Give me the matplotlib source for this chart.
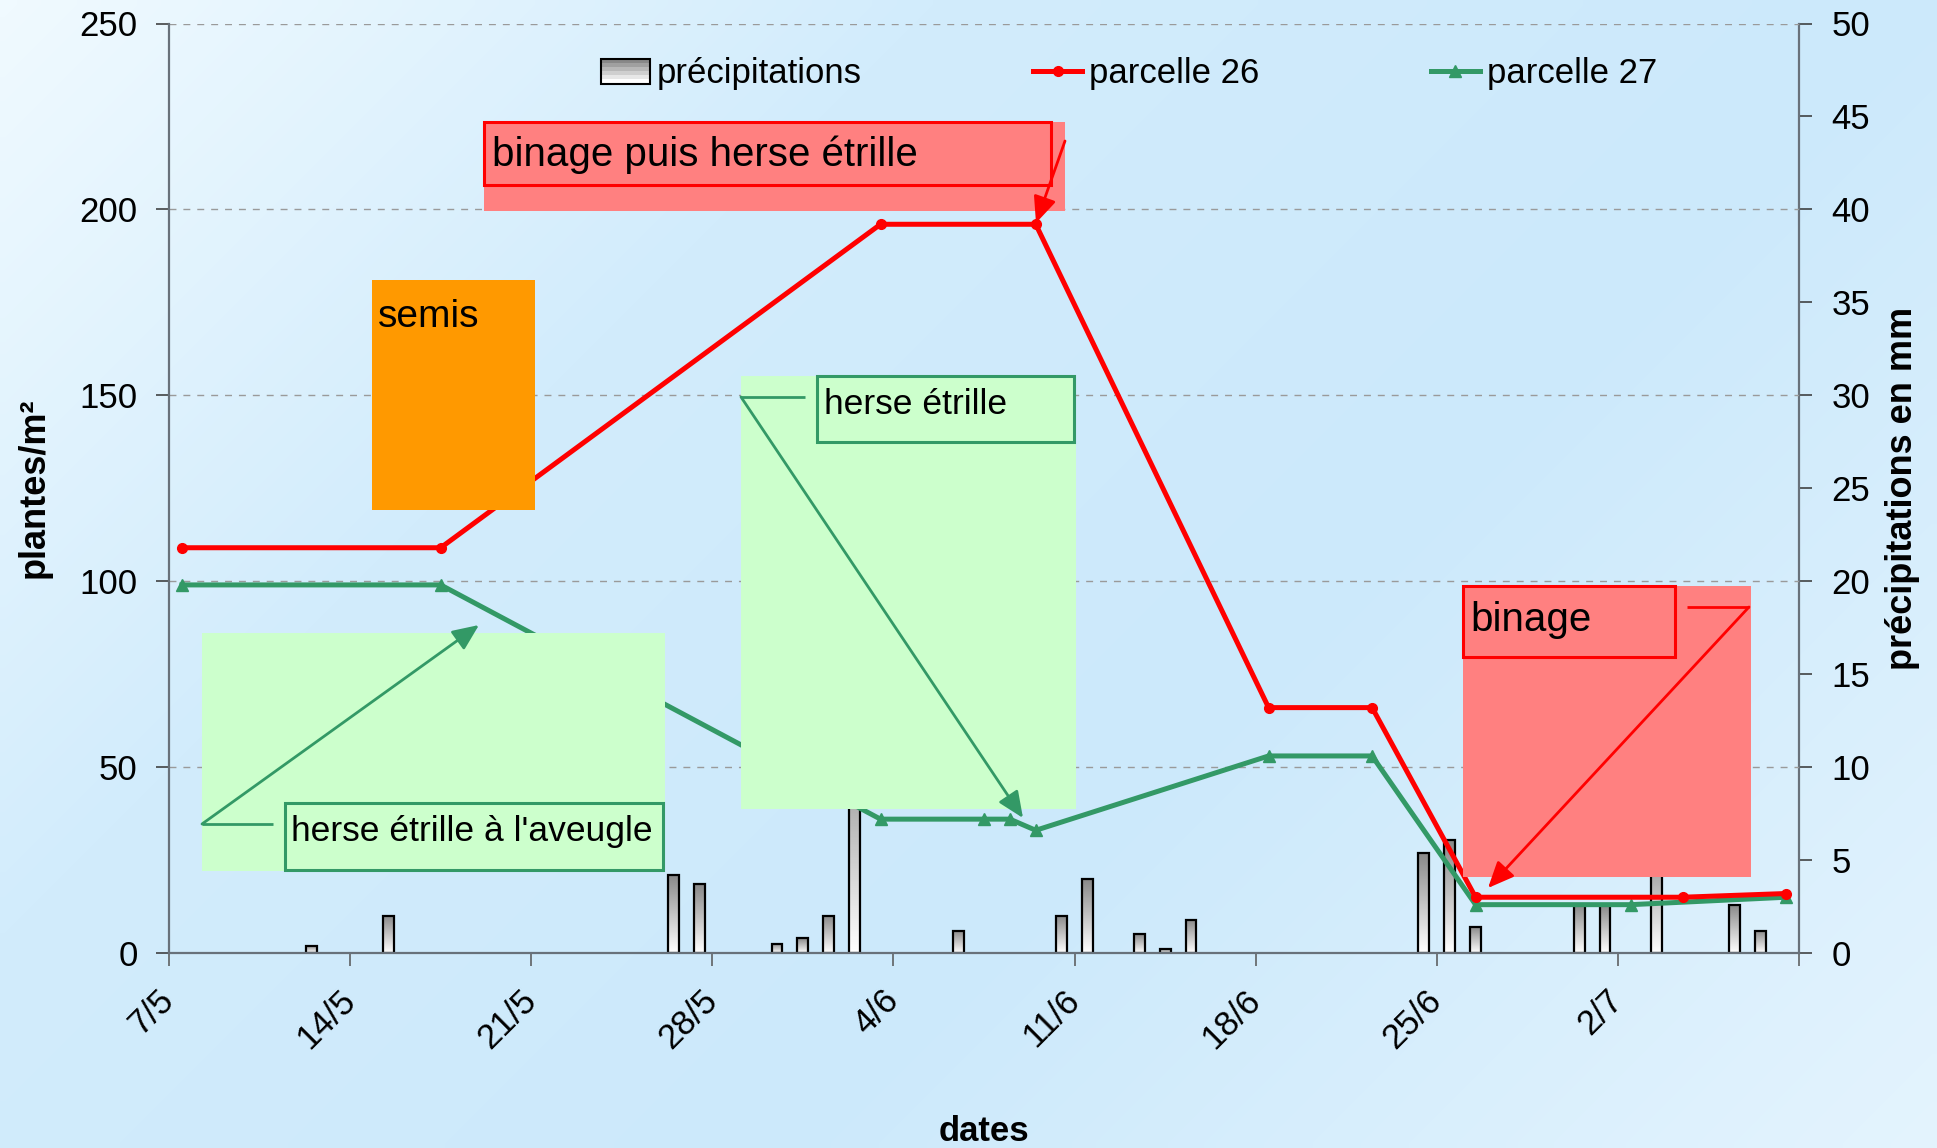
import datetime as dt
import numpy as np
import matplotlib
matplotlib.use("Agg")
import matplotlib.pyplot as plt
from matplotlib.patches import Rectangle, FancyArrowPatch, Patch
from matplotlib.lines import Line2D
from matplotlib.colors import LinearSegmentedColormap
from matplotlib.legend_handler import HandlerPatch

plt.rcParams['font.family'] = ['Liberation Sans', 'DejaVu Sans']

# ---------------- data ----------------
YEAR = 2008
start_date = '7/5'
end_date = '9/7'
tick_labels = ['7/5', '14/5', '21/5', '28/5', '4/6', '11/6', '18/6', '25/6', '2/7']

precip_dates = ['12/5', '15/5', '26/5', '27/5', '30/5', '31/5', '1/6', '2/6', '6/6',
                '10/6', '11/6', '13/6', '14/6', '15/6', '24/6', '25/6', '26/6',
                '30/6', '1/7', '3/7', '6/7', '7/7']
precip_mm = [0.4, 2.0, 4.2, 3.7, 0.5, 0.8, 2.0, 12.0, 1.2,
             2.0, 4.0, 1.0, 0.2, 1.8, 5.4, 6.1, 1.4,
             2.6, 2.6, 6.0, 2.6, 1.2]

p26_dates = ['7/5', '17/5', '3/6', '9/6', '18/6', '22/6', '26/6', '4/7', '8/7']
p26_values = [109, 109, 196, 196, 66, 66, 15, 15, 16]

p27_dates = ['7/5', '17/5', '3/6', '7/6', '8/6', '9/6', '18/6', '22/6', '26/6', '2/7', '8/7']
p27_values = [99, 99, 36, 36, 36, 33, 53, 53, 13, 13, 15]


def day(s):
    d, m = map(int, s.split('/'))
    d0, m0 = map(int, start_date.split('/'))
    return (dt.date(YEAR, m, d) - dt.date(YEAR, m0, d0)).days


x_precip = [day(s) + 0.5 for s in precip_dates]
x26 = [day(s) + 0.5 for s in p26_dates]
x27 = [day(s) + 0.5 for s in p27_dates]
tick_pos = [day(s) for s in tick_labels]

W, H = 1937, 1148
fig = plt.figure(figsize=(W / 100, H / 100), dpi=100)

# ---------------- background gradient ----------------
bg = fig.add_axes([0, 0, 1, 1], zorder=-10)
bg.axis('off')
gh, gw = 120, 200
yy, xx = np.mgrid[0:gh, 0:gw]
t = (xx / gw * W + yy / gh * H) / (W + H)
bg_cmap = LinearSegmentedColormap.from_list(
    'bg', [(0, '#F0FAFF'), (0.3, '#D2ECFC'), (0.62, '#CCE9FB'), (1, '#E4F4FE')])
bg.imshow(t, cmap=bg_cmap, vmin=0, vmax=1, aspect='auto', interpolation='bilinear')

# ---------------- axes ----------------
ax = fig.add_axes([169 / W, 1 - 953 / H, (1799 - 169) / W, (953 - 23.5) / H])
ax2 = ax.twinx()
ax.set_zorder(3)
ax2.set_zorder(2)
ax.patch.set_visible(False)
ax2.patch.set_visible(False)

# precipitation bars with gradient
bar_cmap = LinearSegmentedColormap.from_list('bar', ['#ffffff', '#888888'])
bars = ax2.bar(x_precip, precip_mm, width=0.42, facecolor='none',
               edgecolor='black', lw=1.6, zorder=3)
grad = np.linspace(0, 1, 64).reshape(-1, 1)
for b in bars:
    x0 = b.get_x()
    w = b.get_width()
    h = b.get_height()
    im = ax2.imshow(grad, cmap=bar_cmap, origin='lower', aspect='auto',
                    extent=[x0, x0 + w, 0, h], zorder=2, interpolation='bilinear')
    im.set_clip_path(b)

# lines
ax.plot(x27, p27_values, color='#339966', lw=3.6, marker='^', ms=9,
        zorder=3, clip_on=False)
ax.plot(x26, p26_values, color='#FF0000', lw=3.6, marker='o', ms=7,
        zorder=4, clip_on=False)

end = day(end_date)
ax.set_xlim(0, end)
ax.set_ylim(0, 250)
ax2.set_ylim(0, 50)
ax.set_yticks(range(0, 251, 50))
ax2.set_yticks(range(0, 51, 5))
ax.set_xticks(tick_pos + [end])
ax.set_xticklabels(tick_labels + [''], rotation=45, ha='right', va='center',
                   rotation_mode='anchor')

ax.yaxis.grid(True, color='#9a9a9a', lw=1.0, ls=(0, (5, 5)))
ax.set_axisbelow(True)

spine_c = '#68717a'
for s in ['top', 'right']:
    ax.spines[s].set_visible(False)
for s in ['top', 'left', 'bottom']:
    ax2.spines[s].set_visible(False)
ax.spines['left'].set_color(spine_c)
ax.spines['bottom'].set_color(spine_c)
ax2.spines['right'].set_color(spine_c)
for sp in [ax.spines['left'], ax.spines['bottom'], ax2.spines['right']]:
    sp.set_linewidth(1.6)

ax.tick_params(axis='y', direction='out', length=9.5, width=1.1, color='#333333',
               labelsize=25, pad=13)
ax.tick_params(axis='x', direction='out', length=9.5, width=1.1, color='#555555',
               labelsize=25, pad=21)
ax2.tick_params(axis='y', direction='out', length=9.5, width=1.1, color='#333333',
                labelsize=25, pad=14)

ax.set_ylabel('plantes/m²', fontsize=26, fontweight='bold')
ax.yaxis.set_label_coords(-0.0718, 0.5)
ax2.set_ylabel('précipitations en mm', fontsize=26, fontweight='bold')
ax2.yaxis.set_label_coords(1.0528, 0.5)
ax.set_xlabel('dates', fontsize=25, fontweight='bold', va='top')
ax.xaxis.set_label_coords(0.5, -0.174)


# ---------------- legend ----------------
class GradHandler(HandlerPatch):
    def create_artists(self, legend, orig_handle, xdescent, ydescent, width,
                       height, fontsize, trans):
        arts = []
        n = 6
        cols = bar_cmap(np.linspace(0.0, 1.0, n))
        for i in range(n):
            r = Rectangle((-xdescent, -ydescent + height * i / n), width, height / n,
                          facecolor=cols[i], edgecolor='none', transform=trans)
            arts.append(r)
        arts.append(Rectangle((-xdescent, -ydescent), width, height, facecolor='none',
                              edgecolor='black', lw=1.5, transform=trans))
        return arts


h_prec = Patch(facecolor='#c0c0c0', edgecolor='black')
h26 = Line2D([], [], color='#FF0000', lw=3.6, marker='o', ms=7)
h27 = Line2D([], [], color='#339966', lw=3.6, marker='^', ms=9)
fig.legend([h_prec, h26, h27], ['précipitations', 'parcelle 26', 'parcelle 27'],
           loc='center left', bbox_to_anchor=(601 / W, 1 - 74 / H), ncol=3,
           frameon=False, fontsize=25, handlelength=1.4, handletextpad=0.2,
           columnspacing=4.95, borderpad=0, borderaxespad=0,
           handler_map={Patch: GradHandler()})


# ---------------- annotations (drawn shapes, pixel positions) ----------------
def fx(x):
    return x / W


def fy(y):
    return 1 - y / H


def rect(x0, y0, x1, y1, fc='none', ec='none', lw=0, z=5):
    fig.add_artist(Rectangle((fx(x0), fy(y1)), fx(x1) - fx(x0), fy(y0) - fy(y1),
                             transform=fig.transFigure, facecolor=fc, edgecolor=ec,
                             lw=lw, zorder=z))


def line(xs, ys, c, lw=2.0, z=7):
    fig.add_artist(Line2D([fx(v) for v in xs], [fy(v) for v in ys],
                          transform=fig.transFigure, color=c, lw=lw, zorder=z,
                          solid_capstyle='butt'))


def arrow(p0, p1, c, lw=2.0, z=7):
    fig.add_artist(FancyArrowPatch((fx(p0[0]), fy(p0[1])), (fx(p1[0]), fy(p1[1])),
                                   transform=fig.transFigure,
                                   arrowstyle='-|>,head_length=0.8,head_width=0.35',
                                   mutation_scale=20, color=c, lw=lw, zorder=z,
                                   shrinkA=0, shrinkB=0))


def label(x, y, s, size):
    fig.text(fx(x), fy(y), s, fontsize=size, ha='left', va='baseline', zorder=8)


RED = '#FF0000'
PINK = '#FF8080'
GREEN = '#339966'
LGREEN = '#CCFFCC'
ORANGE = '#FF9900'

# binage puis herse étrille
rect(484, 122, 1065, 211, fc=PINK)
rect(484, 122, 1051, 185, ec=RED, lw=2.2, z=6)
arrow((1065, 141), (1036, 223), RED)
label(492, 166, 'binage puis herse étrille', 29)

# semis
rect(372, 280, 535, 510, fc=ORANGE)
label(378, 327, 'semis', 28)

# herse étrille
rect(741, 376, 1076, 809, fc=LGREEN)
rect(817, 376, 1074, 442, ec=GREEN, lw=2.2, z=6)
line([805, 741], [397, 397], GREEN)
arrow((741, 397), (1023, 818), GREEN)
label(824, 414, 'herse étrille', 25.5)

# herse étrille à l'aveugle
rect(202, 633, 665, 871, fc=LGREEN)
rect(285, 803, 663, 870, ec=GREEN, lw=2.2, z=6)
line([273, 202], [824, 824], GREEN)
arrow((202, 824), (479, 625), GREEN)
label(291, 841, "herse étrille à l'aveugle", 25.5)

# binage
rect(1463, 586, 1751, 877, fc=PINK)
rect(1463, 586, 1675, 657, ec=RED, lw=2.2, z=6)
line([1687, 1749], [607, 607], RED)
arrow((1749, 607), (1488, 888), RED)
label(1470, 631, 'binage', 29)

fig.savefig('out.png', dpi=100)
